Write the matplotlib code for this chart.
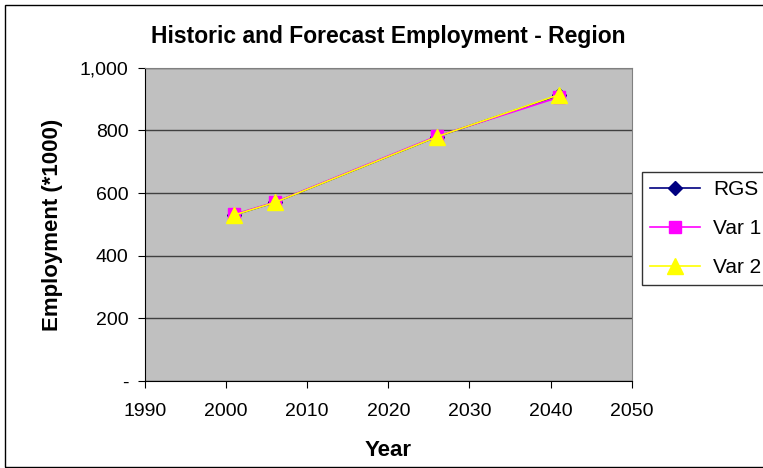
import numpy as np
import matplotlib.pyplot as plt
from matplotlib.ticker import FuncFormatter

plt.rcParams['font.family'] = ['Liberation Sans', 'DejaVu Sans']

years = [2001, 2006, 2026, 2041]
rgs = [530, 570, 780, 912]
var1 = [532, 571, 782, 906]
var2 = [530, 570, 780, 914]

fig = plt.figure(figsize=(7.63, 4.68), dpi=100)
fig.patch.set_facecolor('white')
ax = fig.add_axes([0.190, 0.186, 0.638, 0.669])
ax.set_facecolor('#C0C0C0')

ax.plot(years, rgs, color='#000080', marker='D', markersize=7, lw=1.2, label='RGS')
ax.plot(years, var1, color='#FF00FF', marker='s', markersize=9, lw=1.2, label='Var 1')
ax.plot(years, var2, color='#FFFF00', marker='^', markersize=11, lw=1.2, label='Var 2')

ax.set_xlim(1990, 2050)
ax.set_ylim(0, 1000)
ax.set_xticks(range(1990, 2051, 10))
ax.set_yticks(range(0, 1001, 200))
ax.yaxis.set_major_formatter(FuncFormatter(lambda v, p: '-' if v == 0 else f'{int(v):,}'))
ax.grid(axis='y', color='#404040', lw=1)
ax.set_axisbelow(True)
ax.tick_params(direction='out', length=5, labelsize=14, color='black')
ax.tick_params(axis='x', pad=11)
ax.tick_params(axis='y', pad=7)
for s in ['top', 'right']:
    ax.spines[s].set_color('#808080')

ax.set_title('Historic and Forecast Employment - Region', fontsize=16.5, fontweight='bold', pad=18)
ax.set_xlabel('Year', fontsize=16, fontweight='bold', labelpad=14)
ax.set_ylabel('Employment (*1000)', fontsize=16, fontweight='bold', labelpad=12)

leg = fig.legend(loc='upper left', bbox_to_anchor=(642/763, 1 - 172/468), frameon=True,
                 fancybox=False, edgecolor='black', fontsize=15, handlelength=2.4,
                 borderpad=0.4, labelspacing=0.95, handletextpad=0.6, borderaxespad=0)
leg.get_frame().set_linewidth(1)

fig.patches.append(plt.Rectangle((5/763, 0.003), 1.2, 1 - 5/468 - 0.003, transform=fig.transFigure,
                                 fill=False, edgecolor='black', lw=1))

fig.savefig('out.png', dpi=100)
